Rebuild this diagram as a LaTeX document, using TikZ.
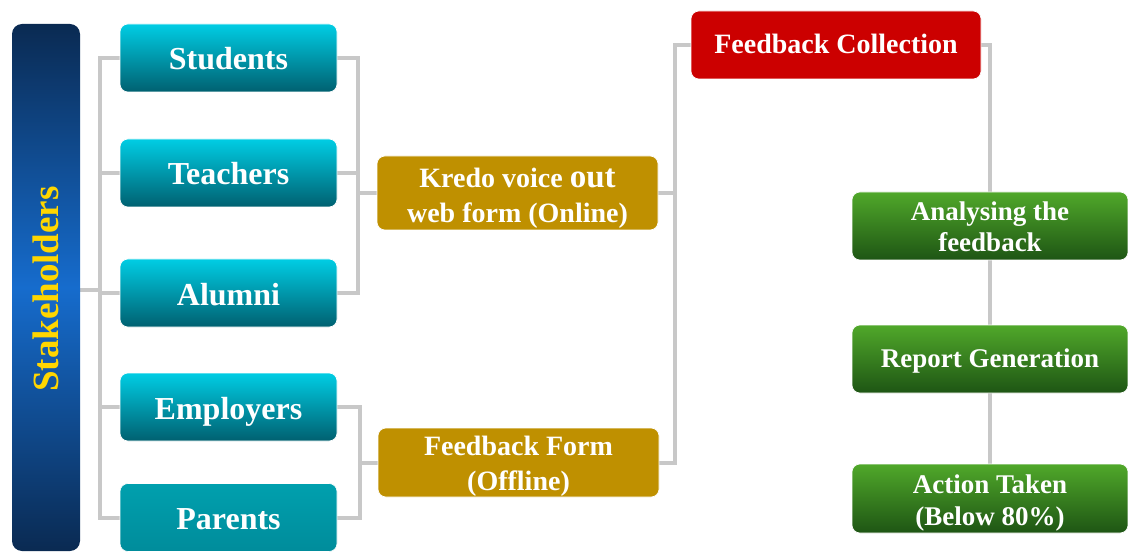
\documentclass[tikz,border=0pt]{standalone}
\usepackage{fontspec}
\setmainfont{Liberation Serif}
\usetikzlibrary{backgrounds}
\definecolor{conncol}{RGB}{200,200,200}
\definecolor{tealtop}{RGB}{0,205,228}
\definecolor{tealbot}{RGB}{0,96,112}
\definecolor{partop}{RGB}{0,160,174}
\definecolor{parbot}{RGB}{0,140,155}
\definecolor{navy}{RGB}{10,42,82}
\definecolor{barmid}{RGB}{22,108,205}
\definecolor{gold}{RGB}{191,144,0}
\definecolor{redbox}{RGB}{204,0,0}
\definecolor{greentop}{RGB}{80,168,42}
\definecolor{greenbot}{RGB}{30,85,20}
\definecolor{stakeyellow}{RGB}{255,214,0}
\begin{document}
\begin{tikzpicture}[x=1pt,y=-1pt,
  box/.style={rounded corners=8pt, inner sep=0pt, text=white, draw=white!60, line width=0.6pt},
  tealbox/.style={box, minimum width=217pt, minimum height=68pt,
    top color=tealtop, bottom color=tealbot,
    font=\fontsize{32}{38}\selectfont\bfseries, text height=24pt, text depth=0pt},
  goldbox/.style={box, minimum width=281pt, minimum height=68pt, fill=gold,
    align=center, font=\fontsize{28}{35}\selectfont\bfseries},
  redboxstyle/.style={box, minimum width=290pt, minimum height=68pt, fill=redbox,
    font=\fontsize{28}{35}\selectfont\bfseries, text height=18pt, text depth=0pt},
  greenbox/.style={box, minimum width=276pt, minimum height=68pt,
    top color=greentop, bottom color=greenbot, align=center,
    font=\fontsize{27}{32}\selectfont\bfseries},
  conn/.style={draw=conncol, line width=4pt}
]
\useasboundingbox (0,0) rectangle (1129,553);

% stakeholders bar
\node[rounded corners=10pt, minimum width=68pt, minimum height=527pt, inner sep=0pt,
  top color=navy, bottom color=navy, middle color=barmid] (stake) at (46,287.5) {};
\node[rotate=90, inner sep=0pt, text=stakeyellow, font=\fontsize{37}{40}\selectfont\bfseries,
  text height=25pt, text depth=0pt] (stakelabel) at (46,289) {Stakeholders};

% stakeholder groups
\node[tealbox] (students)  at (228.5,58)    {Students};
\node[tealbox] (teachers)  at (228.5,173)   {Teachers};
\node[tealbox] (alumni)    at (228.5,293)   {Alumni};
\node[tealbox] (employers) at (228.5,407)   {Employers};
\node[tealbox, top color=partop, bottom color=parbot] (parents) at (228.5,517.5) {Parents};

% forms
\node[goldbox] (kredo) at (517.5,193)
  {\rule{0pt}{32pt}Kredo voice {\fontsize{33}{35}\selectfont out}\\web form (Online)\rule[-7pt]{0pt}{7pt}};
\node[goldbox, minimum height=69pt] (ff) at (518.5,462.5)
  {\rule{0pt}{27pt}Feedback Form\\(Offline)\rule[-7pt]{0pt}{7pt}};

% collection
\node[redboxstyle] (fc) at (836,45) {Feedback Collection};

% process
\node[greenbox] (analysing) at (990,226)
  {\rule{0pt}{27pt}Analysing the\\feedback\rule[-7pt]{0pt}{7pt}};
\node[greenbox, text height=16pt, text depth=0pt] (report) at (990,359) {Report Generation};
\node[greenbox, minimum height=69pt] (action) at (990,498.5)
  {\rule{0pt}{28pt}Action Taken\\(Below 80\%)\rule[-7pt]{0pt}{7pt}};

\coordinate (lx) at (100,0);
\coordinate (sj) at (100,290);
\coordinate (r1) at (358,0);
\coordinate (r2) at (360,0);
\coordinate (r3) at (675,0);

\begin{scope}[on background layer]
  \fill[white] (0,0) rectangle (1129,553);
  \draw[conn] (stake.east |- sj) -- (sj);
  \draw[conn] (students.west) -- (students.west -| lx) -- (parents.west -| lx) -- (parents.west);
  \foreach \n in {teachers,alumni,employers} \draw[conn] (\n.west) -- (\n.west -| lx);
  \draw[conn] (students.east) -- (students.east -| r1) -- (alumni.east -| r1) -- (alumni.east);
  \draw[conn] (teachers.east) -- (teachers.east -| r1);
  \draw[conn] (kredo.west) -- (kredo.west -| r1);
  \draw[conn] (employers.east) -- (employers.east -| r2) -- (parents.east -| r2) -- (parents.east);
  \draw[conn] (ff.west) -- (ff.west -| r2);
  \draw[conn] (fc.west) -- (fc.west -| r3) -- (ff.east -| r3) -- (ff.east);
  \draw[conn] (kredo.east) -- (kredo.east -| r3);
  \draw[conn] (fc.east) -| (action.north);
\end{scope}
\end{tikzpicture}
\end{document}
